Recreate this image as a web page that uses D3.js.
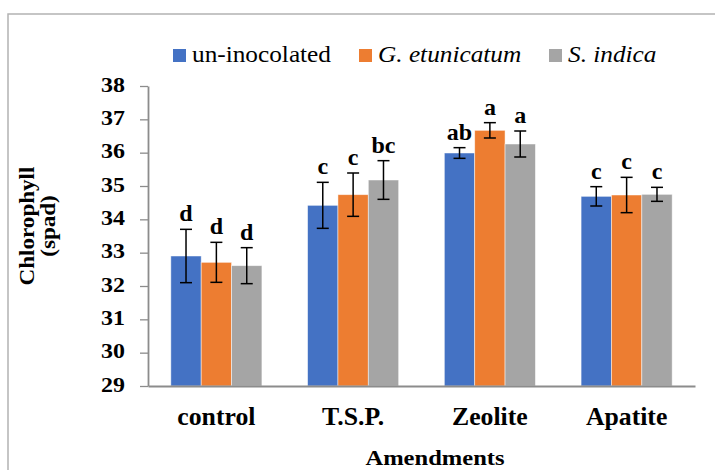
<!DOCTYPE html>
<html><head><meta charset="utf-8">
<script src="https://cdn.jsdelivr.net/npm/d3@7"></script>
<style>body{margin:0;background:#fff}svg{display:block}</style>
</head><body><svg id="c" width="715" height="470"></svg>
<script>
const categories = ["control", "T.S.P.", "Zeolite", "Apatite"];
const seriesNames = ["un-inocolated", "G. etunicatum", "S. indica"];
const uninoculated = [32.90, 34.42, 35.99, 34.69];
const etunicatum = [32.71, 34.74, 36.67, 34.73];
const indica = [32.61, 35.18, 36.26, 34.75];
const uninoculatedErr = [0.80, 0.69, 0.16, 0.29];
const etunicatumErr = [0.60, 0.65, 0.23, 0.53];
const indicaErr = [0.54, 0.58, 0.39, 0.21];
const uninoculatedLetters = ["d", "c", "ab", "c"];
const etunicatumLetters = ["d", "c", "a", "c"];
const indicaLetters = ["d", "bc", "a", "c"];
const yTicks = [29, 30, 31, 32, 33, 34, 35, 36, 37, 38];

const FONT = '"Liberation Serif", "Times New Roman", Times, serif';
const colors = ["#4472C4", "#ED7D31", "#A5A5A5"];
const seriesVals = [uninoculated, etunicatum, indica];
const seriesErr = [uninoculatedErr, etunicatumErr, indicaErr];
const seriesLet = [uninoculatedLetters, etunicatumLetters, indicaLetters];

const svg = d3.select("#c");
svg.append("rect").attr("x", 8).attr("y", 14).attr("width", 900).attr("height", 700)
  .attr("fill", "none").attr("stroke", "#b3b3b3").attr("stroke-width", 1.5);

const x = d3.scaleBand().domain(categories).range([148, 695]).padding(0);
const y = d3.scaleLinear().domain([29, 38]).range([386, 86]);
const bw = x.bandwidth() * 0.222;

const data = [];
categories.forEach((c, ci) => seriesVals.forEach((vals, si) => data.push({
  c, si, v: vals[ci], e: seriesErr[si][ci], l: seriesLet[si][ci]
})));
const bx = d => x(d.c) + x.bandwidth() / 2 + (d.si - 1.5) * bw;

svg.append("g").selectAll("rect").data(data).join("rect")
  .attr("x", d => bx(d)).attr("width", bw)
  .attr("y", d => y(d.v)).attr("height", d => y(29) - y(d.v))
  .attr("fill", d => colors[d.si])
  .attr("stroke", "rgba(255,255,255,0.6)").attr("stroke-width", 0.8);

const yAxis = svg.append("g").attr("transform", "translate(148,0)")
  .call(d3.axisLeft(y).tickValues(yTicks).tickSize(8).tickSizeOuter(0));
yAxis.attr("font-family", null);
yAxis.select(".domain").attr("stroke", "#8c8c8c").attr("stroke-width", 1.8);
yAxis.selectAll(".tick line").attr("stroke", "#8c8c8c").attr("stroke-width", 1.3);
yAxis.selectAll(".tick text").attr("x", null).attr("dy", null)
  .attr("transform", "translate(-23,5) scale(1.14,1)")
  .attr("text-anchor", "end").attr("fill", "#000")
  .style("font-size", "21px").style("font-weight", "bold").style("font-family", FONT);

const xAxis = svg.append("g").attr("transform", "translate(0,386)")
  .call(d3.axisBottom(x).tickSize(0).tickSizeOuter(0));
xAxis.attr("font-family", null);
xAxis.select(".domain").attr("stroke", "#8c8c8c").attr("stroke-width", 2.2);
xAxis.selectAll(".tick text").attr("y", null).attr("dy", null)
  .attr("transform", "translate(0,39) scale(1.03,1)")
  .attr("fill", "#000")
  .style("font-size", "25px").style("font-weight", "bold").style("font-family", FONT);

const eg = svg.append("g").attr("stroke", "#000").attr("stroke-width", 1.5);
data.forEach(d => {
  const cx = bx(d) + bw / 2;
  eg.append("line").attr("x1", cx).attr("x2", cx).attr("y1", y(d.v + d.e)).attr("y2", y(d.v - d.e));
  eg.append("line").attr("x1", cx - 6).attr("x2", cx + 6).attr("y1", y(d.v + d.e)).attr("y2", y(d.v + d.e));
  eg.append("line").attr("x1", cx - 6).attr("x2", cx + 6).attr("y1", y(d.v - d.e)).attr("y2", y(d.v - d.e));
});

svg.append("g").selectAll("text").data(data).join("text")
  .attr("transform", d => `translate(${bx(d) + bw / 2},${y(d.v + d.e) - 8})`)
  .attr("text-anchor", "middle").style("font-family", FONT)
  .style("font-size", "24px").style("font-weight", "bold")
  .text(d => d.l);

svg.append("text").attr("transform", "translate(435,465) scale(1.17,1)")
  .attr("text-anchor", "middle").style("font-family", FONT)
  .style("font-size", "21px").style("font-weight", "bold")
  .text("Amendments");
const yt = svg.append("g").attr("transform", "translate(0,226) rotate(-90)");
yt.append("text").attr("transform", "translate(0,34) scale(1.1,1)").attr("text-anchor", "middle")
  .style("font-family", FONT).style("font-size", "21px").style("font-weight", "bold").text("Chlorophyll");
yt.append("text").attr("transform", "translate(0,55) scale(1.1,1)").attr("text-anchor", "middle")
  .style("font-family", FONT).style("font-size", "21px").style("font-weight", "bold").text("(spad)");

const legX = [173, 359, 549];
const lg = svg.append("g");
seriesNames.forEach((n, i) => {
  lg.append("rect").attr("x", legX[i]).attr("y", 49).attr("width", 13).attr("height", 13).attr("fill", colors[i]);
  lg.append("text").attr("transform", `translate(${legX[i] + 19},62) scale(1.1,1)`)
    .style("font-family", FONT).style("font-size", "23px")
    .style("font-style", i === 0 ? "normal" : "italic").text(n);
});
</script></body></html>
